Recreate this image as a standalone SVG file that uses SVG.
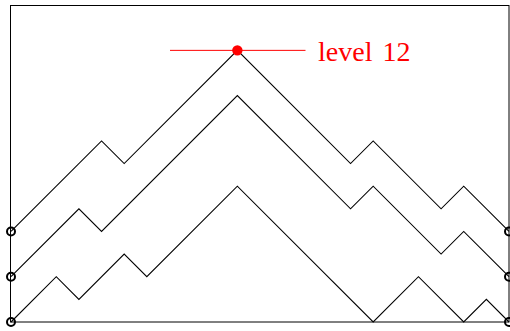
<svg xmlns="http://www.w3.org/2000/svg" width="510" height="331" viewBox="0 0 510 331">
<style>
.frame{fill:none;stroke:#000;stroke-width:1}
.path{fill:none;stroke:#000;stroke-width:1.1;stroke-linejoin:miter}
.end{fill:none;stroke:#000;stroke-width:2}
.lvl{stroke:#ff0000;stroke-width:1;fill:none}
.lbl{font-family:"Liberation Serif","DejaVu Serif",serif;font-size:28px;fill:#ff0000;word-spacing:3px}
</style>
<rect id="frame" class="frame" x="10.5" y="5.5" width="498.5" height="316.5"/>
<g id="connectors">
<polyline class="path" points="11,322 56.27,276.73 78.91,299.36 124.18,254.09 146.82,276.73 237.36,186.18 373.18,322 418.45,276.73 463.73,322 486.36,299.36 509,322"/>
<polyline class="path" points="11,276.73 78.91,208.82 101.55,231.45 237.36,95.64 350.55,208.82 373.18,186.18 441.09,254.09 463.73,231.45 509,276.73"/>
<polyline class="path" points="11,231.45 101.55,140.91 124.18,163.55 237.36,50.36 350.55,163.55 373.18,140.91 441.09,208.82 463.73,186.18 509,231.45"/>
</g>
<g id="level12">
<line class="lvl" x1="170" y1="50.36" x2="305.5" y2="50.36"/>
<circle cx="237.36" cy="50.36" r="5.2" fill="#ff0000"/>
<text class="lbl" x="318" y="61" textLength="92.5" lengthAdjust="spacingAndGlyphs">level 12</text>
</g>
<g id="start0"><circle class="end" cx="11" cy="322" r="4"/></g>
<g id="start2"><circle class="end" cx="11" cy="276.73" r="4"/></g>
<g id="start4"><circle class="end" cx="11" cy="231.45" r="4"/></g>
<g id="end0"><circle class="end" cx="509" cy="322" r="4"/></g>
<g id="end2"><circle class="end" cx="509" cy="276.73" r="4"/></g>
<g id="end4"><circle class="end" cx="509" cy="231.45" r="4"/></g>
</svg>
